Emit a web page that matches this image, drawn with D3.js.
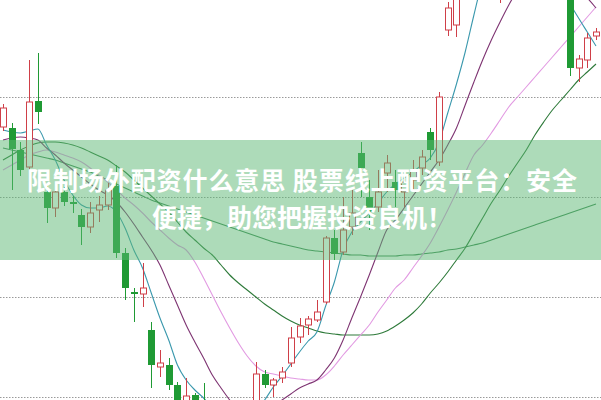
<!DOCTYPE html>
<html><head><meta charset="utf-8">
<script src="https://cdn.jsdelivr.net/npm/d3@7/dist/d3.min.js"></script>
<style>html,body{margin:0;padding:0;background:#fff;overflow:hidden}svg{display:block}</style>
</head><body>
<svg id="c" width="601" height="400"></svg>
<script>
// ---- data (price units) ----
const openP  = [9.70,9.69,9.47,9.30,9.96,9.05,8.89,9.05,8.95,8.82,8.70,8.87,8.92,9.11,8.44,8.05,8.03,7.67,7.30,7.32,7.12,6.87,7.02,6.92,6.77,6.62,6.67,6.57,6.72,6.87,7.23,7.12,7.19,7.34,7.60,7.72,7.77,7.95,8.59,8.45,8.70,9.44,9.00,8.90,9.24,9.15,9.05,9.17,9.29,9.65,9.35,10.67,10.72,11.27,11.57,11.87,11.77,11.17,11.37,11.67,11.57,11.82,11.72,11.92,11.77,11.22,10.29,10.37,10.61];
const closeP = [9.89,9.48,9.27,9.95,9.85,8.89,9.05,8.95,8.93,8.70,8.84,8.92,9.07,8.44,8.09,8.03,8.09,7.32,7.34,7.12,6.95,7.01,6.87,6.77,6.62,6.69,6.55,6.72,6.82,7.23,7.12,7.17,7.25,7.59,7.71,7.78,7.85,8.59,8.43,8.67,8.84,9.29,8.85,9.05,9.34,9.07,9.15,9.27,9.40,9.47,10.00,10.89,11.27,11.57,11.87,11.77,11.47,11.37,11.67,11.57,11.82,11.72,11.92,11.77,11.27,10.29,10.38,10.59,10.65];
const highP  = [9.93,9.74,9.55,10.37,10.44,9.12,9.11,9.10,9.01,8.88,8.95,9.01,9.14,9.32,8.49,8.09,8.34,7.75,7.47,7.39,7.15,7.19,7.04,7.14,6.85,6.77,6.79,6.82,6.92,7.35,7.27,7.19,7.30,7.70,7.79,7.81,7.97,8.61,8.67,9.00,9.07,9.55,9.17,9.27,9.42,9.27,9.24,9.37,9.47,9.69,10.05,10.95,11.37,11.67,11.97,12.07,11.87,11.57,11.77,11.87,11.92,11.97,12.07,12.07,11.87,11.32,10.42,10.64,10.69];
const lowP   = [9.66,9.07,9.21,9.27,9.73,8.74,8.80,8.91,8.84,8.52,8.64,8.75,8.87,8.39,7.97,7.75,7.90,7.09,7.20,7.07,6.87,6.85,6.82,6.72,6.57,6.52,6.47,6.49,6.65,6.85,7.09,7.00,7.14,7.30,7.54,7.62,7.75,7.93,8.37,8.42,8.62,9.00,8.67,8.85,9.05,8.90,8.90,9.07,9.22,9.37,9.31,10.61,10.60,11.17,11.47,11.67,11.37,10.94,11.27,11.47,11.47,11.62,11.62,11.67,11.17,10.21,10.15,10.29,10.57];

const ma5   = [9.67,9.65,9.64,9.66,9.68,9.52,9.37,9.17,9.02,8.92,8.89,8.89,8.91,8.85,8.69,8.47,8.29,8.04,7.79,7.57,7.32,7.17,7.07,6.99,6.89,6.79,6.72,6.72,6.77,6.87,6.97,7.10,7.21,7.33,7.45,7.56,7.65,7.91,8.15,8.47,8.65,8.75,8.84,8.94,9.05,9.13,9.19,9.25,9.32,9.39,9.55,9.84,10.13,10.45,10.82,11.17,11.42,11.52,11.57,11.59,11.59,11.57,11.52,11.37,11.17,10.94,10.79,10.65,10.51];
const ma10  = [9.57,9.59,9.60,9.59,9.57,9.49,9.42,9.34,9.27,9.20,9.13,9.07,9.02,8.95,8.85,8.73,8.60,8.47,8.32,8.12,7.92,7.72,7.55,7.39,7.22,7.09,6.97,6.87,6.82,6.82,6.85,6.91,6.97,7.03,7.09,7.13,7.17,7.27,7.39,7.57,7.79,8.00,8.22,8.45,8.67,8.77,8.89,9.01,9.13,9.25,9.37,9.52,9.69,9.92,10.15,10.37,10.57,10.75,10.92,11.07,11.19,11.27,11.32,11.32,11.27,11.17,11.07,10.99,10.89];
const ma20  = [9.27,9.32,9.37,9.42,9.45,9.47,9.45,9.42,9.39,9.35,9.29,9.22,9.15,9.07,8.99,8.92,8.84,8.75,8.67,8.59,8.52,8.47,8.35,8.19,8.02,7.85,7.69,7.54,7.41,7.31,7.25,7.23,7.21,7.19,7.18,7.17,7.17,7.22,7.31,7.42,7.52,7.62,7.72,7.85,7.97,8.09,8.17,8.29,8.41,8.54,8.70,8.87,9.05,9.24,9.42,9.52,9.64,9.77,9.90,10.00,10.10,10.20,10.30,10.40,10.50,10.60,10.70,10.80,10.90];
const ma60  = [9.37,9.42,9.47,9.51,9.54,9.55,9.55,9.54,9.52,9.49,9.45,9.41,9.37,9.31,9.25,9.17,9.09,9.01,8.93,8.85,8.75,8.65,8.57,8.49,8.42,8.32,8.22,8.14,8.07,8.00,7.93,7.87,7.81,7.76,7.72,7.69,7.66,7.64,7.63,7.62,7.62,7.62,7.62,7.63,7.66,7.71,7.77,7.84,7.93,8.04,8.14,8.25,8.37,8.49,8.64,8.79,8.94,9.07,9.21,9.34,9.47,9.62,9.75,9.87,9.97,10.07,10.17,10.25,10.33];
const ma120 = [9.49,9.47,9.45,9.43,9.41,9.39,9.37,9.34,9.31,9.28,9.25,9.21,9.17,9.13,9.09,9.05,9.01,8.97,8.94,8.91,8.88,8.85,8.82,8.79,8.76,8.73,8.70,8.67,8.64,8.61,8.58,8.55,8.53,8.51,8.49,8.47,8.46,8.45,8.44,8.43,8.42,8.42,8.41,8.41,8.41,8.41,8.42,8.42,8.43,8.44,8.45,8.47,8.48,8.50,8.52,8.54,8.57,8.60,8.63,8.66,8.69,8.72,8.75,8.78,8.81,8.84,8.87,8.90,8.93];

const gridLevels = [7, 8, 9, 10];
const titleLines = ["限制场外配资什么意思 股票线上配资平台：安全", "便捷，助您把握投资良机！"];

// ---- drawing ----
const W = 601, H = 400;
const svg = d3.select("#c");
const x = d3.scaleLinear().domain([0, openP.length - 1]).range([3, 596]);
const y = d3.scaleLinear().domain([7, 10]).range([397, 97]);

const candles = openP.map((o, i) => ({i, o, c: closeP[i], h: highP[i], l: lowP[i]}));

svg.append("defs").append("clipPath").attr("id", "clip")
  .append("rect").attr("width", W).attr("height", H);
const g = svg.append("g").attr("clip-path", "url(#clip)");

// grid
g.append("g").selectAll("line").data(gridLevels).join("line")
  .attr("x1", 0).attr("x2", W)
  .attr("y1", d => Math.round(y(d)) + 0.5).attr("y2", d => Math.round(y(d)) + 0.5)
  .attr("stroke", "#9a9a9a").attr("stroke-width", 1).attr("stroke-dasharray", "1.5,1.5");

// MA lines
const lines = [
  {v: ma120, color: "#3f8a55"},
  {v: ma60, color: "#2e7a3a"},
  {v: ma20, color: "#e29ae2"},
  {v: ma10, color: "#7e3472"},
  {v: ma5, color: "#3a98ad"}
];
const lineGen = d3.line().x((d, i) => x(i)).y(d => y(d)).curve(d3.curveMonotoneX);
g.append("g").selectAll("path").data(lines).join("path")
  .attr("d", d => lineGen(d.v)).attr("fill", "none")
  .attr("stroke", d => d.color).attr("stroke-width", 1.1);

// candles
const red = "#cf3f48", green = "#1f9a34";
const cg = g.append("g").selectAll("g").data(candles).join("g");
cg.each(function(d) {
  const s = d3.select(this);
  const cx = Math.round(x(d.i)) + 0.5;
  const up = d.c >= d.o;
  const top = y(Math.max(d.o, d.c)), bot = y(Math.min(d.o, d.c));
  const col = up ? red : green;
  if (up) {
    s.append("line").attr("x1", cx).attr("x2", cx).attr("y1", y(d.h)).attr("y2", top).attr("stroke", col);
    s.append("line").attr("x1", cx).attr("x2", cx).attr("y1", bot).attr("y2", y(d.l)).attr("stroke", col);
    s.append("rect").attr("x", cx - 3).attr("y", top).attr("width", 6).attr("height", Math.max(1, bot - top))
      .attr("fill", "#fff").attr("stroke", col).attr("stroke-width", 1);
  } else {
    s.append("line").attr("x1", cx).attr("x2", cx).attr("y1", y(d.h)).attr("y2", y(d.l)).attr("stroke", col);
    s.append("rect").attr("x", cx - 3.5).attr("y", top).attr("width", 7).attr("height", Math.max(1.5, bot - top))
      .attr("fill", col);
  }
});

// banner
svg.append("rect").attr("x", 0).attr("y", 140).attr("width", W).attr("height", 120)
  .attr("fill", "#5cb873").attr("fill-opacity", 0.5);

svg.append("g").selectAll("text").data(titleLines).join("text")
  .attr("x", 302).attr("y", (d, i) => 190 + i * 37)
  .attr("text-anchor", "middle")
  .attr("font-family", "'Noto Sans CJK SC', sans-serif")
  .attr("font-weight", "bold").attr("font-size", "25px")
  .attr("fill", "#fff")
  .each(function(d, i) { if (i === 0) d3.select(this).attr("textLength", 550).attr("lengthAdjust", "spacing"); })
  .text(d => d);
</script>
</body></html>
